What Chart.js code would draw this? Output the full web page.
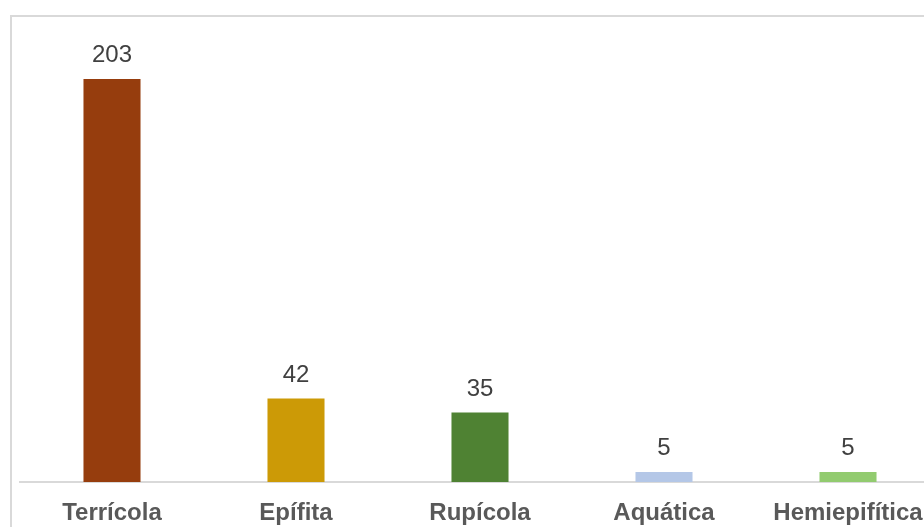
<!DOCTYPE html>
<html>
<head>
<meta charset="utf-8">
<script src="https://cdn.jsdelivr.net/npm/chart.js@4"></script>
<style>
  html, body { margin: 0; padding: 0; width: 924px; height: 527px; overflow: hidden; background: #fff; }
  #frame { position: absolute; left: 10px; top: 15px; width: 1000px; height: 600px; border-left: 2px solid #d9d9d9; border-top: 2px solid #d9d9d9; box-sizing: border-box; }
  #c { position: absolute; left: 0; top: 0; }
</style>
</head>
<body>
<div id="frame"></div>
<canvas id="c" width="960" height="560"></canvas>
<script>
const categories = ["Terrícola", "Epífita", "Rupícola", "Aquática", "Hemiepifítica"];
const values = [203, 42, 35, 5, 5];
const barColors = ["#963D0D", "#CC9A06", "#4F8233", "#B4C7E7", "#92CB6F"];

const valueLabels = {
  id: 'valueLabels',
  afterDatasetsDraw(chart) {
    const ctx = chart.ctx;
    const meta = chart.getDatasetMeta(0);
    ctx.save();
    ctx.font = '24px "Liberation Sans", Arial, sans-serif';
    ctx.fillStyle = '#404040';
    ctx.textAlign = 'center';
    ctx.textBaseline = 'alphabetic';
    meta.data.forEach((bar, i) => {
      ctx.fillText(String(chart.data.datasets[0].data[i]), bar.x, bar.y - 17);
    });
    ctx.restore();
  }
};

new Chart(document.getElementById('c'), {
  type: 'bar',
  data: {
    labels: categories,
    datasets: [{
      data: values,
      backgroundColor: barColors,
      borderWidth: 0,
      barPercentage: 0.31,
      categoryPercentage: 1
    }]
  },
  options: {
    responsive: false,
    animation: false,
    devicePixelRatio: 1,
    layout: { padding: { left: 20, right: 20, top: 79, bottom: 0 } },
    plugins: { legend: { display: false }, tooltip: { enabled: false } },
    scales: {
      y: { display: false, min: 0, max: 203 },
      x: {
        grid: { display: false, drawTicks: false },
        border: { display: true, color: '#d9d9d9', width: 2 },
        ticks: {
          color: '#595959',
          padding: 17,
          font: { family: '"Liberation Sans", Arial, sans-serif', size: 24, weight: 'bold' }
        },
        afterFit(scale) { scale.height = 78; }
      }
    }
  },
  plugins: [valueLabels]
});
</script>
</body>
</html>
